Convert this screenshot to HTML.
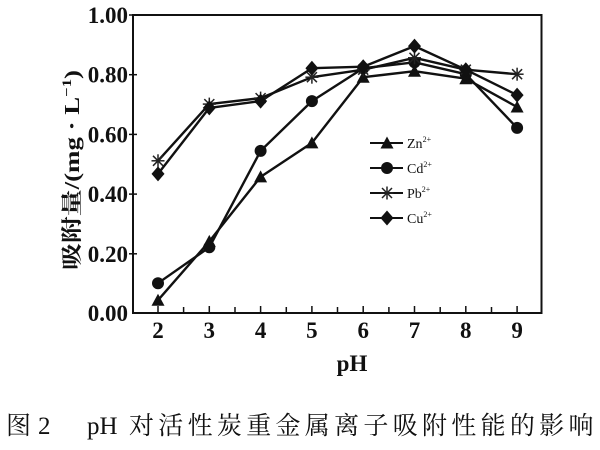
<!DOCTYPE html>
<html><head><meta charset="utf-8"><style>
html,body{margin:0;padding:0;background:#fff;}
svg{display:block;}
</style></head><body>
<svg width="600" height="450" viewBox="0 0 600 450" xmlns="http://www.w3.org/2000/svg">
<rect width="600" height="450" fill="#fff"/>
<defs>
<g id="tri"><polygon points="0,-6.5 6.5,5.5 -6.5,5.5" fill="#111"/></g>
<g id="cir"><circle r="6" fill="#111"/></g>
<g id="dia"><polygon points="0,-7.5 6.5,0 0,7.5 -6.5,0" fill="#111"/></g>
<g id="star" stroke="#222" stroke-width="1.5"><line x1="-6.5" y1="0" x2="6.5" y2="0"/><line x1="0" y1="-6.5" x2="0" y2="6.5"/><line x1="-5" y1="-5" x2="5" y2="5"/><line x1="-5" y1="5" x2="5" y2="-5"/></g>
</defs>
<!-- frame -->
<g stroke="#111" stroke-width="2" fill="none">
<rect x="133" y="15" width="408.5" height="298"/>
</g>
<!-- y ticks -->
<g stroke="#111" stroke-width="1.5">
<line x1="129" y1="15" x2="137" y2="15"/>
<line x1="129" y1="74.7" x2="137" y2="74.7"/>
<line x1="129" y1="134.4" x2="137" y2="134.4"/>
<line x1="129" y1="194.1" x2="137" y2="194.1"/>
<line x1="129" y1="253.8" x2="137" y2="253.8"/>
<!-- x ticks -->
<line x1="158" y1="313" x2="158" y2="306"/>
<line x1="183.6" y1="313" x2="183.6" y2="307"/>
<line x1="209.3" y1="313" x2="209.3" y2="306"/>
<line x1="235" y1="313" x2="235" y2="307"/>
<line x1="260.6" y1="313" x2="260.6" y2="306"/>
<line x1="286.3" y1="313" x2="286.3" y2="307"/>
<line x1="311.9" y1="313" x2="311.9" y2="306"/>
<line x1="337.5" y1="313" x2="337.5" y2="307"/>
<line x1="363.2" y1="313" x2="363.2" y2="306"/>
<line x1="388.9" y1="313" x2="388.9" y2="307"/>
<line x1="414.5" y1="313" x2="414.5" y2="306"/>
<line x1="440.2" y1="313" x2="440.2" y2="307"/>
<line x1="465.8" y1="313" x2="465.8" y2="306"/>
<line x1="491.5" y1="313" x2="491.5" y2="307"/>
<line x1="517.1" y1="313" x2="517.1" y2="306"/>
</g>
<!-- y labels -->
<g font-family="'Liberation Serif', serif" font-weight="bold" font-size="23" fill="#111" text-anchor="end">
<text x="128" y="23">1.00</text>
<text x="128" y="82.7">0.80</text>
<text x="128" y="142.4">0.60</text>
<text x="128" y="202.1">0.40</text>
<text x="128" y="261.8">0.20</text>
<text x="128" y="321">0.00</text>
</g>
<!-- x labels -->
<g font-family="'Liberation Serif', serif" font-weight="bold" font-size="23" fill="#111" text-anchor="middle">
<text x="158" y="338">2</text>
<text x="209.3" y="338">3</text>
<text x="260.6" y="338">4</text>
<text x="311.9" y="338">5</text>
<text x="363.2" y="338">6</text>
<text x="414.5" y="338">7</text>
<text x="465.8" y="338">8</text>
<text x="517.1" y="338">9</text>
<text x="352" y="371">pH</text>
</g>
<!-- y title -->
<text transform="translate(79,170) rotate(-90)" text-anchor="middle" font-family="'Liberation Serif','Noto Serif CJK SC', serif" font-weight="bold" font-size="21" fill="#111" textLength="200" lengthAdjust="spacingAndGlyphs">吸附量/(mg · L<tspan font-size="13" dy="-8">−1</tspan><tspan dy="8">)</tspan></text>

<!-- series -->
<g fill="none" stroke="#111" stroke-width="2.4" stroke-linejoin="round">
<polyline points="158,300.2 209.3,241.4 260.6,176.9 311.9,142.9 363.2,77.2 414.5,71.2 465.8,78.7 517.1,107"/>
<polyline points="158,283.2 209.3,247.3 260.6,150.9 311.9,101.1 363.2,68.2 414.5,62.3 465.8,74.2 517.1,127.9"/>
<polyline points="158,160.8 209.3,104.1 260.6,98.1 311.9,77.2 363.2,69.7 414.5,57.8 465.8,69.7 517.1,74.2"/>
<polyline points="158,173.9 209.3,107.9 260.6,101.1 311.9,68.2 363.2,66.7 414.5,46.1 465.8,69.7 517.1,95.1"/>
</g>
<g>
<use href="#tri" x="158" y="300.2"/><use href="#tri" x="209.3" y="241.4"/><use href="#tri" x="260.6" y="176.9"/><use href="#tri" x="311.9" y="142.9"/><use href="#tri" x="363.2" y="77.2"/><use href="#tri" x="414.5" y="71.2"/><use href="#tri" x="465.8" y="78.7"/><use href="#tri" x="517.1" y="107"/>
<use href="#cir" x="158" y="283.2"/><use href="#cir" x="209.3" y="247.3"/><use href="#cir" x="260.6" y="150.9"/><use href="#cir" x="311.9" y="101.1"/><use href="#cir" x="363.2" y="68.2"/><use href="#cir" x="414.5" y="62.3"/><use href="#cir" x="465.8" y="74.2"/><use href="#cir" x="517.1" y="127.9"/>
<use href="#star" x="158" y="160.8"/><use href="#star" x="209.3" y="104.1"/><use href="#star" x="260.6" y="98.1"/><use href="#star" x="311.9" y="77.2"/><use href="#star" x="363.2" y="69.7"/><use href="#star" x="414.5" y="57.8"/><use href="#star" x="465.8" y="69.7"/><use href="#star" x="517.1" y="74.2"/>
<use href="#dia" x="158" y="173.9"/><use href="#dia" x="209.3" y="107.9"/><use href="#dia" x="260.6" y="101.1"/><use href="#dia" x="311.9" y="68.2"/><use href="#dia" x="363.2" y="66.7"/><use href="#dia" x="414.5" y="46.1"/><use href="#dia" x="465.8" y="69.7"/><use href="#dia" x="517.1" y="95.1"/>
</g>

<!-- legend -->
<g stroke="#111" stroke-width="2">
<line x1="370" y1="143" x2="403" y2="143"/>
<line x1="370" y1="168" x2="403" y2="168"/>
<line x1="370" y1="193" x2="403" y2="193"/>
<line x1="370" y1="218" x2="403" y2="218"/>
</g>
<use href="#tri" x="387" y="143"/>
<use href="#cir" x="387" y="168"/>
<use href="#star" x="387" y="193"/>
<use href="#dia" x="387" y="218"/>
<g font-family="'Liberation Serif', serif" font-size="14" fill="#111">
<text x="407" y="148">Zn<tspan font-size="8" dy="-6">2+</tspan></text>
<text x="407" y="173">Cd<tspan font-size="8" dy="-6">2+</tspan></text>
<text x="407" y="198">Pb<tspan font-size="8" dy="-6">2+</tspan></text>
<text x="407" y="223">Cu<tspan font-size="8" dy="-6">2+</tspan></text>
</g>

<!-- caption -->
<g font-family="'Liberation Serif','Noto Serif CJK SC', serif" font-size="25" font-weight="normal" fill="#111">
<text x="6" y="434">图</text>
<text x="38" y="434">2</text>
<text x="87" y="434">pH</text>
<text x="129" y="434" letter-spacing="4.3">对活性炭重金属离子吸附性能的影响</text>
</g>
</svg>
</body></html>
